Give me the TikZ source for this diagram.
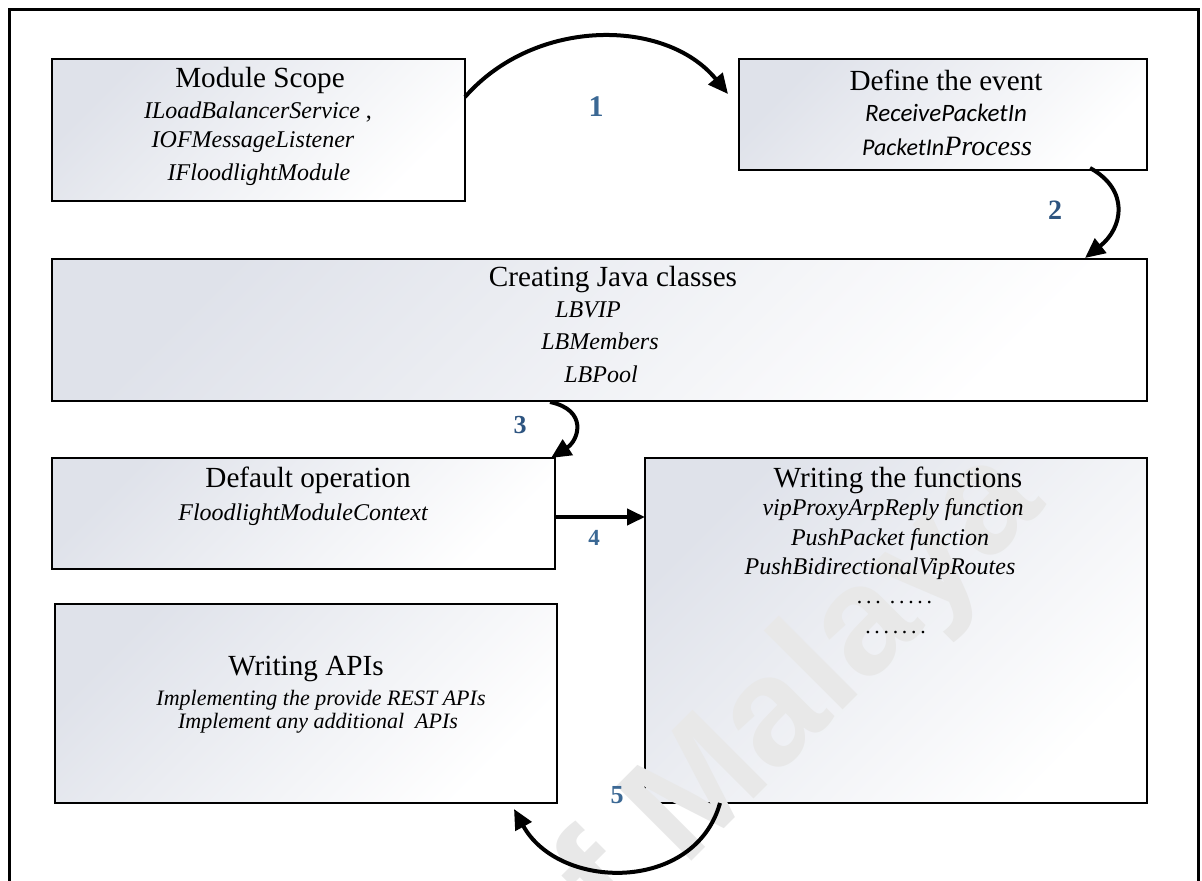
\documentclass[tikz,border=0pt]{standalone}
\usepackage{fontspec}
\setmainfont{Liberation Serif}
\newfontfamily\carl{Carlito}
\newfontfamily\wmfont{Liberation Sans}
\usetikzlibrary{arrows.meta}

\definecolor{boxgray}{HTML}{DFE2EA}
\definecolor{stepblue}{HTML}{3B6894}
\definecolor{stepdark}{HTML}{2D5480}
\definecolor{markgray}{HTML}{E8E8E8}

\begin{document}
\begin{tikzpicture}[x=0.5pt,y=-0.5pt,
  box/.style={draw=black, line width=1pt, top color=boxgray, bottom color=white,
    shading angle=45, inner sep=0pt, outer sep=0pt, anchor=north west},
  title/.style={inner sep=0pt, font=\fontsize{14.6}{16}\selectfont},
  itl/.style={inner sep=0pt, font=\fontsize{12}{14}\selectfont\itshape},
  itls/.style={inner sep=0pt, font=\fontsize{11}{13}\selectfont\itshape},
  num/.style={inner sep=0pt, text=stepblue, font=\bfseries},
  flow/.style={line width=2pt, -{Triangle[length=10pt,width=9pt]}},
]
\useasboundingbox (0,0) rectangle (1202,881);

% outer frame, its lower edge runs below the page
\begin{scope}
  \clip (0,0) rectangle (1202,881);
  \draw[line width=1.5pt] (9,10) rectangle (1198,910);
\end{scope}

% boxes
\node[box, minimum width=206.5pt, minimum height=71pt]   (scope)   at (52,59)  {};
\node[box, minimum width=204pt,   minimum height=55.5pt] (event)   at (739,59) {};
\node[box, minimum width=547.5pt, minimum height=71pt]   (classes) at (52,259) {};
\node[box, minimum width=251.5pt, minimum height=55.5pt] (default) at (52,458) {};
\node[box, minimum width=251pt,   minimum height=172.5pt] (funcs)  at (645,458) {};
\node[box, minimum width=251pt,   minimum height=99.5pt] (apis)    at (55,604) {};

% repository watermark
\begin{scope}
  \clip (0,0) rectangle (1202,881);
  \node[rotate=45, anchor=base west, text=markgray, inner sep=0pt,
        font=\wmfont\bfseries\fontsize{77}{77}\selectfont] (wm) at (551,1002) {of Malaya};
\end{scope}

% box texts
\node[title] (scopeT) at (260,80)  {Module Scope};
\node[itl]   (scope1) at (258,112) {ILoadBalancerService\upshape\ ,};
\node[itl]   (scope2) at (253,142) {IOFMessageListener};
\node[itl]   (scope3) at (259,175) {IFloodlightModule};

\node[title] (eventT) at (946,80)  {Define the event};
\node[inner sep=0pt, font=\carl\fontsize{12.5}{14}\selectfont\itshape] (event1) at (946,113) {ReceivePacketIn};
\node[inner sep=0pt] (event2) at (947,146)
  {{\carl\fontsize{12}{14}\selectfont\itshape PacketIn}{\fontsize{14}{16}\selectfont\itshape Process}};

\node[title] (classT) at (613,280) {Creating Java classes};
\node[itl]   (class1) at (588,310) {LBVIP};
\node[itl]   (class2) at (600,341) {LBMembers};
\node[itl]   (class3) at (601,374) {LBPool};

\node[title] (defT)   at (308,480) {Default operation};
\node[itl]   (def1)   at (303,515) {FloodlightModuleContext};

\node[title] (funT)   at (898,480) {Writing the functions};
\node[itl]   (fun1)   at (893,510) {vipProxyArpReply function};
\node[itl]   (fun2)   at (890,540) {PushPacket function};
\node[itl]   (fun3)   at (880,569) {PushBidirectionalVipRoutes};
\node[itls]  (fun4)   at (895,603) {.\,.\,.\,\ .\,.\,.\,.\,.};
\node[itls]  (fun5)   at (896,633) {.\,.\,.\,.\,.\,.\,.};

\node[title] (apiT)   at (306,669) {Writing APIs};
\node[itls]  (api1)   at (321,700) {Implementing the provide REST APIs};
\node[itls]  (api2)   at (318,723) {Implement any additional\ \ APIs};

% step numbers
\node[num, font=\bfseries\fontsize{15}{15}\selectfont] (n1) at (596,107) {1};
\node[num, text=stepdark, font=\bfseries\fontsize{14}{14}\selectfont] (n2) at (1055,210) {2};
\node[num, text=stepdark, font=\bfseries\fontsize{13}{13}\selectfont] (n3) at (520,425) {3};
\node[num, font=\bfseries\fontsize{11.5}{12}\selectfont] (n4) at (594,538) {4};
\node[num, font=\bfseries\fontsize{13}{13}\selectfont] (n5) at (617,795) {5};

% connectors
\draw[flow] ([shift={(0,38)}]scope.north east)
  .. controls +(70,-80) and +(-62,-76) .. ([shift={(-11,35)}]event.north west);
\draw[flow] ([shift={(-57,-2)}]event.south east)
  .. controls +(40,22) and +(38,-30) .. ([shift={(-62,-1)}]classes.north east);
\draw[flow] ([shift={(498,1)}]classes.south west)
  .. controls +(38,8) and +(28,-18) .. ([shift={(-4,0)}]default.north east);
\draw[line width=2pt, -{Triangle[length=9pt,width=8pt]}]
  ([shift={(0,3.5)}]default.east) coordinate (s4) -- (s4 -| funcs.west);
\draw[flow] ([shift={(75,0)}]funcs.south west)
  .. controls +(-25,90) and +(45,82) .. ([shift={(-43,6)}]apis.south east);
\end{tikzpicture}
\end{document}
